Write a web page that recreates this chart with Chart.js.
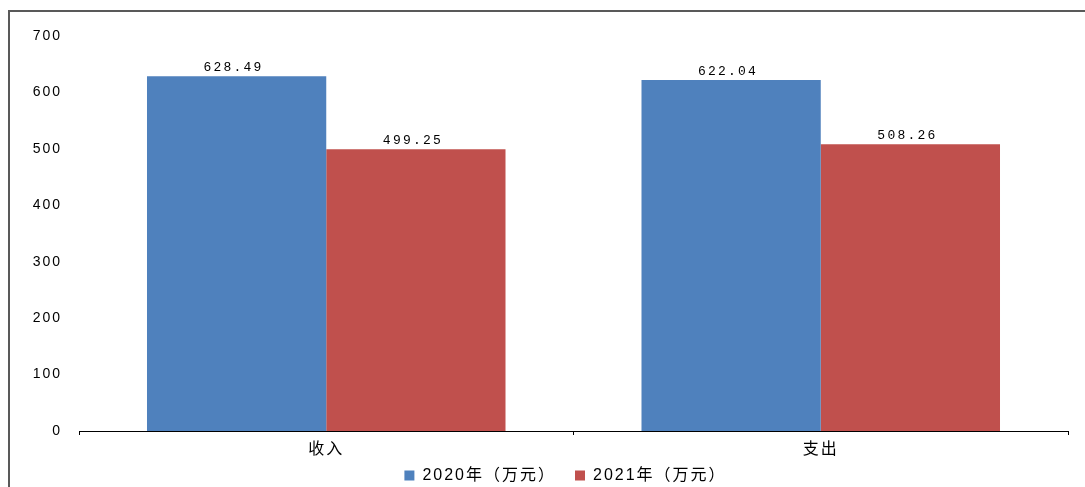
<!DOCTYPE html>
<html>
<head>
<meta charset="utf-8">
<script src="https://cdn.jsdelivr.net/npm/chart.js@4/dist/chart.umd.min.js"></script>
<style>
  body { margin: 0; background: #fff; }
  canvas { display: block; }
</style>
</head>
<body>
<canvas id="incomeChart" width="1085" height="487"></canvas>
<script>
const categories = ["收入", "支出"];
const seriesNames = ["2020年（万元）", "2021年（万元）"];
const values2020 = [628.49, 622.04];
const values2021 = [499.25, 508.26];
const yMin = 0;
const yMax = 700;
const yStep = 100;

const blue = "#4F81BD";
const red = "#C0504D";
const legendPad = 19;

// frame: only top and left edges are visible in the original
const framePlugin = {
    id: "frame",
    beforeUpdate(chart) {
        chart.ctx.letterSpacing = "2px";
    },
    afterLayout(chart) {
        // legend sits a bit right of centre and low in the original
        const lg = chart.legend;
        const dx = 565.5 - (lg.left + lg.right) / 2;
        const dy = (475.5 - 8 - legendPad) - lg.top;
        lg.left += dx; lg.right += dx;
        lg.top += dy; lg.bottom += dy;
    },
    afterDraw(chart) {
        const ctx = chart.ctx;
        ctx.save();
        ctx.strokeStyle = "#595959";
        ctx.lineWidth = 2;
        ctx.beginPath();
        ctx.moveTo(9, 487);
        ctx.lineTo(9, 11);
        ctx.lineTo(1085, 11);
        ctx.stroke();
        ctx.restore();
    }
};

const valueLabels = {
    id: "valueLabels",
    afterDatasetsDraw(chart) {
        const ctx = chart.ctx;
        ctx.save();
        ctx.font = "13px 'Liberation Mono', monospace";
        ctx.letterSpacing = "2.2px";
        ctx.fillStyle = "#000";
        ctx.textAlign = "center";
        ctx.textBaseline = "alphabetic";
        chart.data.datasets.forEach((ds, i) => {
            chart.getDatasetMeta(i).data.forEach((bar, j) => {
                ctx.fillText(ds.data[j].toFixed(2), bar.x - 3, bar.y - 5);
            });
        });
        ctx.restore();
    }
};

new Chart(document.getElementById("incomeChart"), {
    type: "bar",
    data: {
        labels: categories,
        datasets: [{
            label: seriesNames[0],
            data: values2020,
            backgroundColor: blue,
            borderWidth: 0
        }, {
            label: seriesNames[1],
            data: values2021,
            backgroundColor: red,
            borderWidth: 0
        }]
    },
    options: {
        responsive: false,
        animation: false,
        layout: {
            padding: { left: 0, right: 17, top: 36, bottom: -26 }
        },
        datasets: {
            bar: { categoryPercentage: 0.725, barPercentage: 1.0 }
        },
        plugins: {
            legend: {
                position: "bottom",
                labels: {
                    boxWidth: 10,
                    boxHeight: 10,
                    padding: legendPad,
                    color: "#000",
                    font: { size: 16, family: "'Liberation Sans', 'Noto Sans CJK SC', sans-serif" }
                }
            },
            tooltip: { enabled: false }
        },
        scales: {
            x: {
                grid: {
                    display: true,
                    offset: true,
                    drawOnChartArea: false,
                    drawTicks: true,
                    tickLength: 4,
                    color: "#000"
                },
                border: { display: true, color: "#000", width: 1 },
                ticks: {
                    color: "#000",
                    padding: 3,
                    font: { size: 16, family: "'Noto Sans CJK SC', sans-serif" }
                },
                afterFit(scale) { scale.height = 37; }
            },
            y: {
                min: yMin,
                max: yMax,
                grid: { display: false, drawTicks: false },
                border: { display: false },
                ticks: {
                    stepSize: yStep,
                    padding: 17,
                    color: "#000",
                    font: { size: 14, family: "'Liberation Sans', sans-serif" }
                },
                afterFit(scale) { scale.width = 79; }
            }
        }
    },
    plugins: [framePlugin, valueLabels]
});
</script>
</body>
</html>
